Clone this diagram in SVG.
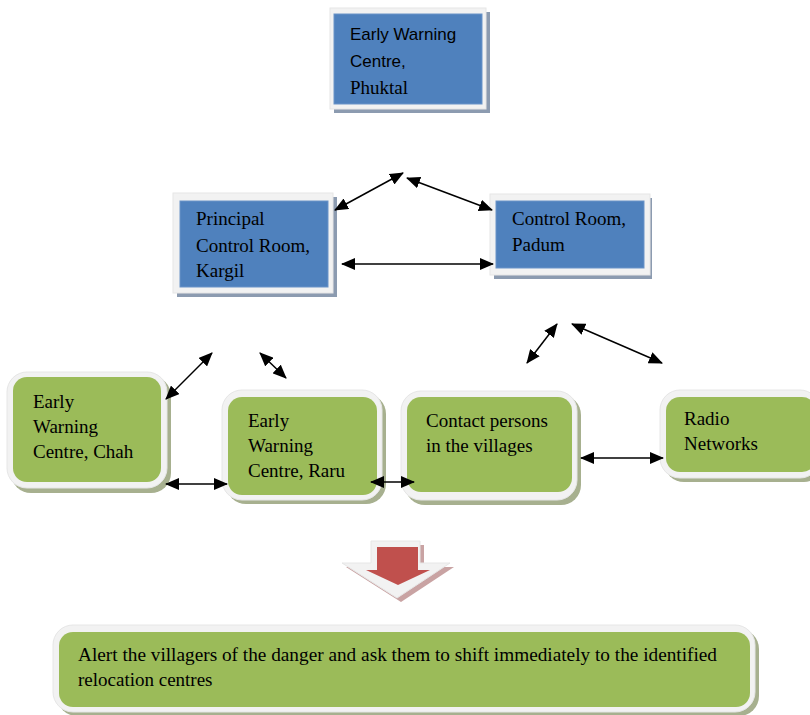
<svg xmlns="http://www.w3.org/2000/svg" width="810" height="715" viewBox="0 0 810 715">
<style>
.frame{fill:#f2f2f2;stroke:#e6e6e6;stroke-width:1}
.bshadow{fill:#8c9bb0}
.gshadow{fill:#a7b08f}
.blue{fill:#4f81bd;stroke:#6a93c8;stroke-width:1}
.green{fill:#9bbb59}
.serif{font-family:"Liberation Serif","Times New Roman",serif;font-size:19px;fill:#000}
.sans{font-family:"Liberation Sans",Arial,sans-serif;font-size:17px;fill:#000}
.conn{stroke:#000;stroke-width:1.5;fill:none;marker-start:url(#ah);marker-end:url(#ah)}
</style>
<defs>
<marker id="ah" viewBox="0 0 14 12" refX="13" refY="6" markerWidth="14" markerHeight="12" markerUnits="userSpaceOnUse" orient="auto-start-reverse">
<path d="M0,0 L14,6 L0,12 Z" fill="#000"/>
</marker>
</defs>
<rect width="810" height="715" fill="#fff"/>

<g id="phuktal">
<rect class="bshadow" x="334" y="12" width="156" height="101"/>
<rect class="frame" x="330" y="8" width="156" height="101"/>
<rect class="blue" x="334" y="14" width="148" height="90"/>
<text class="sans" x="350" y="40">Early Warning</text>
<text class="sans" x="350" y="67">Centre,</text>
<text class="serif" x="350" y="94">Phuktal</text>
</g>

<g id="kargil">
<rect class="bshadow" x="177" y="197" width="160" height="100"/>
<rect class="frame" x="173" y="193" width="160" height="100"/>
<rect class="blue" x="180" y="201" width="148" height="86"/>
<text class="serif" x="196" y="225">Principal</text>
<text class="serif" x="196" y="252">Control Room,</text>
<text class="serif" x="196" y="277">Kargil</text>
</g>

<g id="padum">
<rect class="bshadow" x="494" y="198" width="158" height="81"/>
<rect class="frame" x="490" y="194" width="160" height="81"/>
<rect class="blue" x="496" y="201" width="148" height="67"/>
<text class="serif" x="512" y="225">Control Room,</text>
<text class="serif" x="512" y="251">Padum</text>
</g>

<g id="chah">
<rect class="gshadow" x="11" y="376" width="160" height="117" rx="20"/>
<rect class="frame" x="7" y="372" width="160" height="116" rx="20"/>
<rect class="green" x="13" y="377" width="148" height="105" rx="14"/>
<text class="serif" x="33" y="408">Early</text>
<text class="serif" x="33" y="433">Warning</text>
<text class="serif" x="33" y="458">Centre, Chah</text>
</g>

<g id="raru">
<rect class="gshadow" x="226" y="394" width="160" height="110" rx="20"/>
<rect class="frame" x="222" y="390" width="160" height="110" rx="20"/>
<rect class="green" x="228" y="397" width="149" height="98" rx="14"/>
<text class="serif" x="248" y="427">Early</text>
<text class="serif" x="248" y="452">Warning</text>
<text class="serif" x="248" y="477">Centre, Raru</text>
</g>

<g id="contact">
<rect class="gshadow" x="405" y="395" width="176" height="110" rx="20"/>
<rect class="frame" x="401" y="391" width="176" height="109" rx="20"/>
<rect class="green" x="407" y="397" width="165" height="95" rx="14"/>
<text class="serif" x="426" y="427">Contact persons</text>
<text class="serif" x="426" y="452">in the villages</text>
</g>

<g id="radio">
<rect class="gshadow" x="664" y="394" width="160" height="88" rx="20"/>
<rect class="frame" x="660" y="390" width="160" height="88" rx="20"/>
<rect class="green" x="666" y="397" width="150" height="75" rx="14"/>
<text class="serif" x="684" y="425">Radio</text>
<text class="serif" x="684" y="450">Networks</text>
</g>

<g id="down-arrow">
<path d="M375,545 L424,545 L424,567 L454,567 L401,602 L346,567 L375,567 Z" fill="#c9a3a3"/>
<path d="M371,541 L420,541 L420,563 L450,563 L397,598 L342,563 L371,563 Z" fill="#f2f2f2" stroke="#e6e6e6"/>
<path d="M377,547 L418,547 L418,570 L430,570 L398,585 L366,570 L377,570 Z" fill="#c0504d"/>
</g>

<g id="alert">
<rect class="gshadow" x="57" y="629" width="702" height="87" rx="20"/>
<rect class="frame" x="53" y="625" width="702" height="87" rx="20"/>
<rect class="green" x="59" y="632" width="691" height="75" rx="14"/>
<text class="serif" x="78" y="661" textLength="639" lengthAdjust="spacingAndGlyphs">Alert the villagers of the danger and ask them to shift immediately to the identified</text>
<text class="serif" x="78" y="686">relocation centres</text>
</g>

<g id="connectors">
<line class="conn" x1="335" y1="210" x2="403" y2="173"/>
<line class="conn" x1="407" y1="178" x2="492" y2="210"/>
<line class="conn" x1="342" y1="264" x2="493" y2="264"/>
<line class="conn" x1="166" y1="399" x2="212" y2="353"/>
<line class="conn" x1="260" y1="353" x2="286" y2="378"/>
<line class="conn" x1="166" y1="484" x2="227" y2="484"/>
<line class="conn" x1="371" y1="482" x2="414" y2="482"/>
<line class="conn" x1="527" y1="363" x2="557" y2="324"/>
<line class="conn" x1="572" y1="324" x2="662" y2="363"/>
<line class="conn" x1="581" y1="458" x2="663" y2="458"/>
</g>
</svg>
